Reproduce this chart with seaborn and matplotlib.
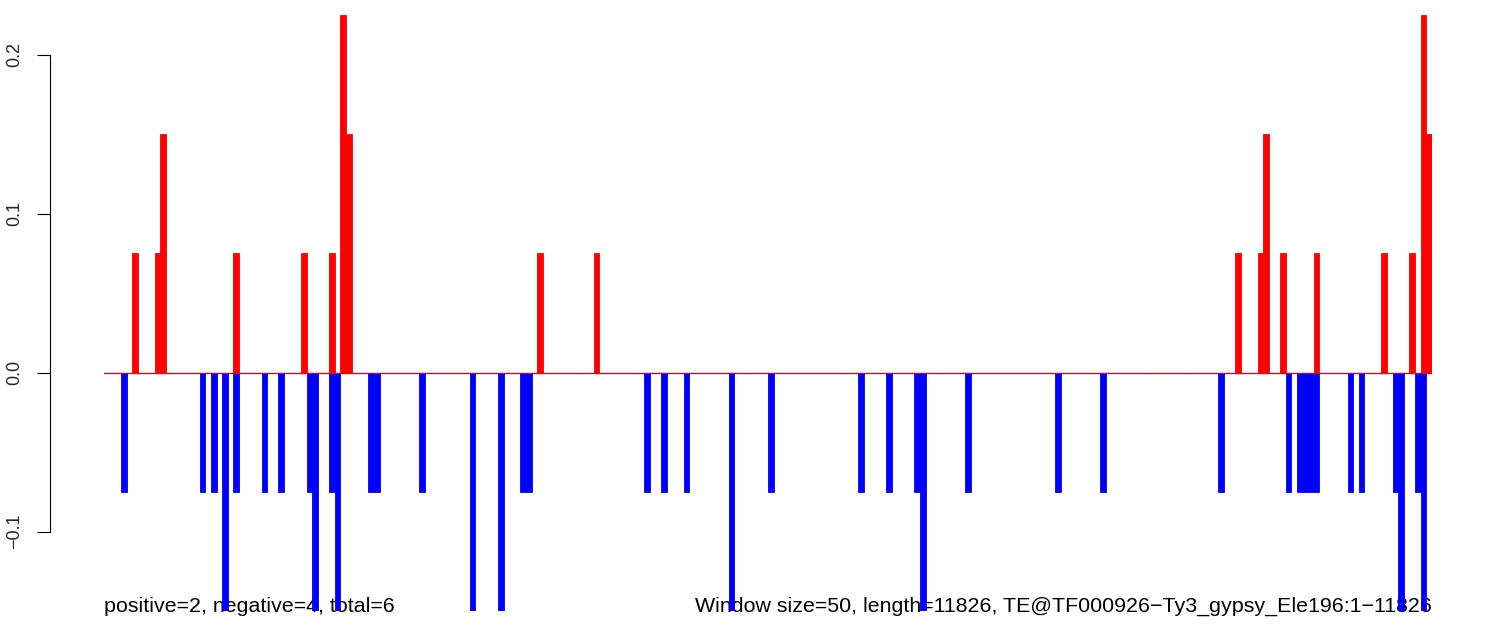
import numpy as np
import pandas as pd
import matplotlib
matplotlib.use("Agg")
import matplotlib.pyplot as plt
import seaborn as sns

n_windows = 236
pos_idx = [5, 9, 10, 23, 35, 40, 42, 43, 77, 87, 201, 205, 206, 209, 215, 227, 232, 234, 235]
pos_val = [0.075, 0.075, 0.15, 0.075, 0.075, 0.075, 0.225, 0.15, 0.075, 0.075,
           0.075, 0.075, 0.15, 0.075, 0.075, 0.075, 0.075, 0.225, 0.15]
neg_idx = [3, 17, 19, 21, 23, 28, 31, 36, 37, 40, 41, 47, 48, 56, 65, 70, 74, 75,
           96, 99, 103, 111, 118, 134, 139, 144, 145, 153, 169, 177, 198, 210,
           212, 213, 214, 215, 221, 223, 229, 230, 233, 234]
neg_val = [-0.075, -0.075, -0.075, -0.15, -0.075, -0.075, -0.075, -0.075, -0.15,
           -0.075, -0.15, -0.075, -0.075, -0.075, -0.15, -0.15, -0.075, -0.075,
           -0.075, -0.075, -0.075, -0.15, -0.075, -0.075, -0.075, -0.075, -0.15,
           -0.075, -0.075, -0.075, -0.075, -0.075, -0.075, -0.075, -0.075, -0.075,
           -0.075, -0.075, -0.075, -0.15, -0.075, -0.15]
y_ticks = [-0.1, 0.0, 0.1, 0.2]
y_tick_labels = ["\u22120.1", "0.0", "0.1", "0.2"]
left_text = "positive=2, negative=4, total=6"
right_text = "Window size=50, length=11826, TE@TF000926\u2212Ty3_gypsy_Ele196:1\u221211826"

df = pd.DataFrame({"window": np.arange(n_windows), "pos": 0.0, "neg": 0.0})
df.loc[pos_idx, "pos"] = pos_val
df.loc[neg_idx, "neg"] = neg_val

sns.set_style("white")
plt.rcParams["font.family"] = ["Liberation Sans", "DejaVu Sans"]

W, H = 1490, 634
PT = 0.72  # points per pixel at dpi 100
fig = plt.figure(figsize=(W / 100, H / 100), dpi=100)
ax = fig.add_axes([104 / W, 1 - 611 / H, (1432 - 104) / W, (611 - 15) / H])

sns.barplot(data=df, x="window", y="neg", color="#0000FF", width=1, linewidth=0.6,
            edgecolor="#0000FF", saturation=1, errorbar=None, ax=ax, zorder=2)
sns.barplot(data=df, x="window", y="pos", color="#FF0000", width=1, linewidth=0.6,
            edgecolor="#FF0000", saturation=1, errorbar=None, ax=ax, zorder=2)

ax.axhline(0, color="#555555", lw=1.0, zorder=1)
ax.set_xlim(-0.5, n_windows - 0.5)
ax.set_ylim(-0.15, 0.225)

for s in ["top", "right", "bottom"]:
    ax.spines[s].set_visible(False)
ax.spines["left"].set_position(("outward", 54 * PT))
ax.spines["left"].set_bounds(-0.1, 0.2)
ax.spines["left"].set_color("black")
ax.spines["left"].set_linewidth(0.8)
ax.set_xticks([])
ax.set_xlabel("")
ax.set_ylabel("")
ax.set_yticks(y_ticks)
ax.set_yticklabels(y_tick_labels, rotation=90, va="center", fontsize=13)
ax.tick_params(axis="y", length=13 * PT, width=0.8, pad=14 * PT, left=True, color="black")

ax.text(104 / W, 1 - 612 / H, left_text, transform=fig.transFigure, ha="left",
        va="baseline", fontsize=15.4, color="black", zorder=0)
ax.text(1432 / W, 1 - 612 / H, right_text, transform=fig.transFigure, ha="right",
        va="baseline", fontsize=15.4, color="black", zorder=0)

fig.savefig("out.png", dpi=100)
